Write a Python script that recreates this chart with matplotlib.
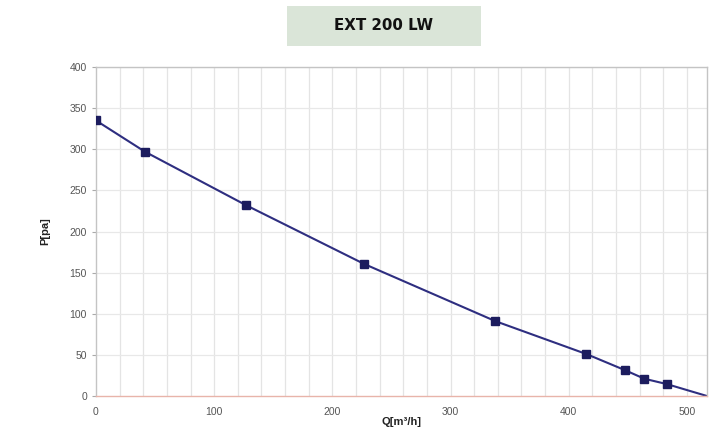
import matplotlib.pyplot as plt
from matplotlib.patches import Rectangle

plt.rcParams['font.family'] = ['Liberation Sans', 'DejaVu Sans']

# fan curve
q_marked = [0, 41.5, 127, 227, 338, 415, 447.5, 464, 483]
p_marked = [335, 297, 232, 160.5, 91, 51, 31.5, 21, 14.5]
q_end = 517
p_end = 0

x_ticks = [0, 100, 200, 300, 400, 500]
y_ticks = [0, 50, 100, 150, 200, 250, 300, 350, 400]

fig = plt.figure(figsize=(7.27, 4.41), dpi=100)
ax = fig.add_axes([0.132, 0.102, 0.8405, 0.746])

# light grid: verticals every 20, horizontals every 50
for q in range(20, 520, 20):
    ax.axvline(q, color='#e4e4e4', linewidth=0.9, zorder=0)
for p in y_ticks[1:]:
    ax.axhline(p, color='#e8e8e8', linewidth=0.9, zorder=0)

ax.plot(q_marked + [q_end], p_marked + [p_end], color='#2e2e80', linewidth=1.5, zorder=2)
ax.plot(q_marked, p_marked, linestyle='none', marker='s', markersize=5.5,
        color='#1c1c5e', zorder=3)

ax.set_xlim(0, 517)
ax.set_ylim(0, 400)
ax.set_xticks(x_ticks)
ax.set_yticks(y_ticks)
ax.tick_params(axis='both', labelsize=7.5, labelcolor='#555555', color='#aaaaaa', length=3)
ax.tick_params(axis='x', length=0, pad=8)

for side in ['left', 'top', 'right']:
    ax.spines[side].set_color('#c4c4c4')
    ax.spines[side].set_linewidth(1.0)
ax.spines['bottom'].set_color('#e8b4aa')
ax.spines['bottom'].set_linewidth(1.0)

ax.set_xlabel('Q[m³/h]', fontsize=8, fontweight='bold', color='#222222', labelpad=0)
ax.set_ylabel('P[pa]', fontsize=8, fontweight='bold', color='#222222', labelpad=14)

# title box
fig.patches.append(Rectangle((287 / 727, 1 - 46 / 441), 194 / 727, 40 / 441,
                             transform=fig.transFigure, facecolor='#dae5d8',
                             edgecolor='none'))
fig.text(384 / 727, 1 - 26 / 441, 'EXT 200 LW', ha='center', va='center',
         fontsize=10.8, fontweight='heavy', family='DejaVu Sans', color='#111111')

fig.savefig('out.png', dpi=100)
